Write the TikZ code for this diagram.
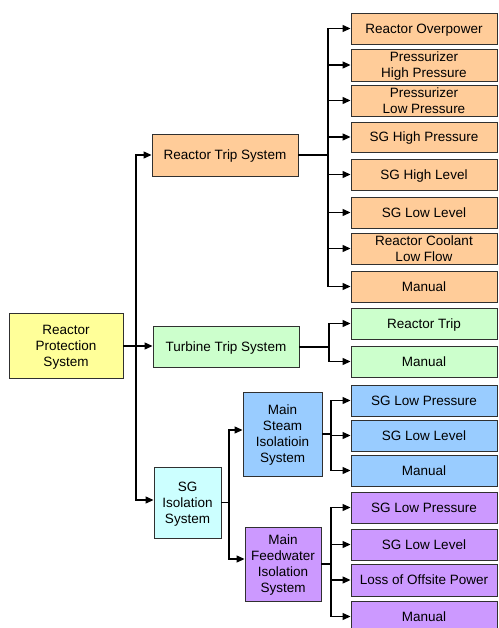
\documentclass[tikz,border=0pt]{standalone}
\usepackage{fontspec}
\setmainfont{Liberation Sans}
\usetikzlibrary{arrows.meta}
\definecolor{cOrange}{HTML}{FFCC99}
\definecolor{cGreen}{HTML}{CCFFCC}
\definecolor{cBlue}{HTML}{99CCFF}
\definecolor{cPurple}{HTML}{CC99FF}
\definecolor{cYellow}{HTML}{FFFF99}
\definecolor{cCyan}{HTML}{CCFFFF}
\definecolor{cEdge}{HTML}{303030}
\tikzset{
  box/.style={draw=cEdge, line width=0.9pt, align=center, inner sep=1pt,
    text depth=0pt, font=\fontsize{13.5}{16}\selectfont},
  leaf/.style={box, minimum width=146pt, minimum height=31pt},
  conn/.style={line width=1.2pt, black},
  arr/.style={conn, -{Triangle[length=8pt,width=7pt]}}
}
\begin{document}
\begin{tikzpicture}[x=1pt, y=-1pt]
\useasboundingbox (0,0) rectangle (498,628);

% root and first level
\node[box, fill=cYellow, minimum width=114pt, minimum height=65pt] (rps) at (66,346) {Reactor\\Protection\\System};
\node[box, fill=cOrange, minimum width=146pt, minimum height=42pt] (rts) at (225,155) {Reactor Trip System};
\node[box, fill=cGreen, minimum width=146pt, minimum height=41pt] (tts) at (226,347) {Turbine Trip System};
\node[box, fill=cCyan, minimum width=67pt, minimum height=71pt] (sgi) at (187.5,502.5) {SG\\Isolation\\System};
\node[box, fill=cBlue, minimum width=79pt, minimum height=84pt] (mss) at (282.5,434) {Main\\Steam\\Isolatioin\\System};
\node[box, fill=cPurple, minimum width=76pt, minimum height=74pt] (mfw) at (283,564) {Main\\Feedwater\\Isolation\\System};

% reactor trip signals
\node[leaf, fill=cOrange] (o1) at (424,28.5) {Reactor Overpower};
\node[leaf, fill=cOrange, minimum height=32pt] (o2) at (424,65) {Pressurizer\\High Pressure};
\node[leaf, fill=cOrange] (o3) at (424,100.5) {Pressurizer\\Low Pressure};
\node[leaf, fill=cOrange, minimum height=30pt] (o4) at (424,137) {SG High Pressure};
\node[leaf, fill=cOrange] (o5) at (424,174.5) {SG High Level};
\node[leaf, fill=cOrange] (o6) at (424,212.5) {SG Low Level};
\node[leaf, fill=cOrange] (o7) at (424,248.5) {Reactor Coolant\\Low Flow};
\node[leaf, fill=cOrange] (o8) at (424,286.5) {Manual};

% turbine trip signals
\node[leaf, fill=cGreen] (g1) at (424,323.5) {Reactor Trip};
\node[leaf, fill=cGreen] (g2) at (424,361.5) {Manual};

% main steam isolation signals
\node[leaf, fill=cBlue] (b1) at (424,400.5) {SG Low Pressure};
\node[leaf, fill=cBlue] (b2) at (424,435.5) {SG Low Level};
\node[leaf, fill=cBlue] (b3) at (424,470.5) {Manual};

% main feedwater isolation signals
\node[leaf, fill=cPurple] (p1) at (424,507.5) {SG Low Pressure};
\node[leaf, fill=cPurple] (p2) at (424,544.5) {SG Low Level};
\node[leaf, fill=cPurple, minimum height=32pt] (p3) at (424,580) {Loss of Offsite Power};
\node[leaf, fill=cPurple] (p4) at (424,616.5) {Manual};

% bus lines
\coordinate (trunk) at (136,0);
\coordinate (srts) at (328,0);
\coordinate (stts) at (329,0);
\coordinate (ssgi) at (229,0);
\coordinate (smss) at (331,0);
\coordinate (smfw) at (331,0);

% root branches
\draw[arr] (rps.east) -- (trunk |- rps.east) |- (rts.west);
\draw[arr] (rps.east) -- (rps.east -| tts.west);
\draw[arr] (rps.east) -- (trunk |- rps.east) |- ([yshift=2.5pt]sgi.west);

% reactor trip branches
\foreach \n in {o1,o2,o3,o4,o5,o6,o7,o8}
  \draw[arr] (rts.east) -- (srts |- rts.east) |- (\n.west);

% turbine trip branches
\foreach \n in {g1,g2}
  \draw[arr] (tts.east) -- (stts |- tts.east) |- (\n.west);

% SG isolation branches
\draw[arr] (sgi.east) -- (ssgi |- sgi.east) |- ([yshift=4pt]mss.west);
\draw[arr] (sgi.east) -- (ssgi |- sgi.east) |- ([yshift=5pt]mfw.west);

% main steam isolation branches
\foreach \n in {b1,b2,b3}
  \draw[arr] (mss.east) -- (smss |- mss.east) |- (\n.west);

% main feedwater isolation branches
\foreach \n in {p1,p2,p3,p4}
  \draw[arr] (mfw.east) -- (smfw |- mfw.east) |- (\n.west);
\end{tikzpicture}
\end{document}
